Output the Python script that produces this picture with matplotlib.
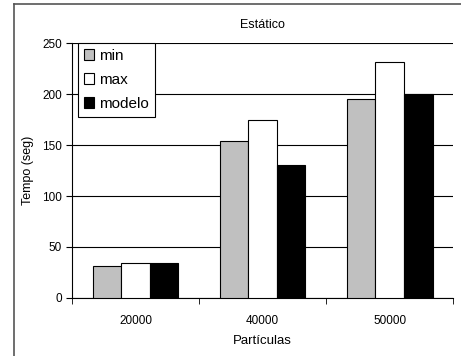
import numpy as np
from matplotlib import pyplot as plt
from matplotlib.lines import Line2D

categories = ['20000', '40000', '50000']
min_vals = [31, 154, 195]
max_vals = [34, 175, 231]
modelo_vals = [34, 130, 200]

plt.rcParams.update({'font.family': 'Liberation Sans', 'font.size': 8.5})

fig = plt.figure(figsize=(4.61, 3.56), dpi=100)
ax = fig.add_axes([0.156, 0.163, 0.827, 0.716])

x = np.arange(len(categories))
w = 0.225
ax.bar(x - w, min_vals, w, color='#c0c0c0', edgecolor='black', linewidth=0.8, label='min', zorder=3)
ax.bar(x, max_vals, w, color='white', edgecolor='black', linewidth=0.8, label='max', zorder=3)
ax.bar(x + w, modelo_vals, w, color='black', edgecolor='black', linewidth=0.8, label='modelo', zorder=3)

ax.set_xlim(-0.5, 2.5)
ax.set_ylim(0, 250)
ax.set_yticks(range(0, 251, 50))
ax.yaxis.grid(True, color='black', linewidth=0.8, zorder=0)
ax.set_xticks(x)
ax.set_xticklabels(categories)
ax.set_xticks([-0.5, 0.5, 1.5, 2.5], minor=True)
ax.tick_params(axis='x', which='major', length=0, pad=12)
ax.tick_params(axis='x', which='minor', length=4, direction='out')
ax.tick_params(axis='y', length=4, direction='out', pad=3)

for s in ['top', 'right']:
    ax.spines[s].set_visible(False)

ax.set_title('Estático', fontsize=9, pad=11)
ax.set_ylabel('Tempo (seg)', fontsize=9, labelpad=6)
ax.set_xlabel('Partículas', fontsize=9.5, labelpad=6)

leg = ax.legend(loc='upper left', bbox_to_anchor=(0.015, 1.0), fontsize=11,
                frameon=True, fancybox=False, edgecolor='black', framealpha=1,
                handlelength=0.7, handleheight=0.7, handletextpad=0.3,
                borderpad=0.4, labelspacing=0.65, borderaxespad=0)
leg.get_frame().set_linewidth(0.8)
leg.set_zorder(5)

# outer chart frame (top and left edges visible)
fig.add_artist(Line2D([14 / 461, 14 / 461], [0, 1 - 4 / 356], transform=fig.transFigure, color='#555555', linewidth=1.2))
fig.add_artist(Line2D([14 / 461, 1], [1 - 4 / 356, 1 - 4 / 356], transform=fig.transFigure, color='#555555', linewidth=1.2))

fig.savefig('out.png', dpi=100)
